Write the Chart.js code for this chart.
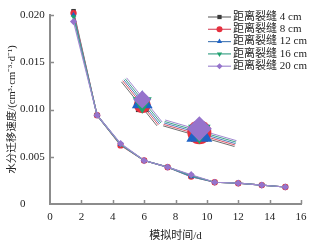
<!DOCTYPE html>
<html lang="zh">
<head>
<meta charset="UTF-8">
<title>水分迁移速度</title>
<script src="https://cdn.jsdelivr.net/npm/chart.js"></script>
<style>
  html, body { margin: 0; padding: 0; background: #fff; }
  #wrap { width: 316px; height: 243px; position: relative; }
</style>
</head>
<body>
<div id="wrap"><canvas id="rateChart"></canvas></div>
<script>
// simulation days and migration rate for each distance from the crack
const days = [1.5, 3, 4.5, 6, 7.5, 9, 10.5, 12, 13.5, 15];
const rate4cm  = [0.0204, 0.0094, 0.0063, 0.0046, 0.0039, 0.0030, 0.0023, 0.0022, 0.0020, 0.0018];
const rate8cm  = [0.0202, 0.0094, 0.0062, 0.0046, 0.0039, 0.0029, 0.0023, 0.0022, 0.0020, 0.0018];
const rate12cm = [0.0200, 0.0094, 0.0063, 0.0046, 0.0039, 0.0029, 0.0023, 0.0022, 0.0020, 0.0018];
const rate16cm = [0.0198, 0.0094, 0.0063, 0.0046, 0.0039, 0.0030, 0.0023, 0.0022, 0.0020, 0.0018];
const rate20cm = [0.0193, 0.0094, 0.0064, 0.0046, 0.0039, 0.0031, 0.0023, 0.0022, 0.0020, 0.0018];
const seriesNames = ['距离裂缝 4 cm', '距离裂缝 8 cm', '距离裂缝 12 cm', '距离裂缝 16 cm', '距离裂缝 20 cm'];

// the two enlarged callouts (marker centre per series, and the short line piece behind it)
const zoomDays = [5.88, 9.52];
const zoomRate4cm  = [0.01040, 0.00748];
const zoomRate8cm  = [0.01050, 0.00759];
const zoomRate12cm = [0.01076, 0.00738];
const zoomRate16cm = [0.01071, 0.00769];
const zoomRate20cm = [0.01107, 0.00795];
// [x start, y start, x end, y end]
const zoomLine4cm  = [[4.55, 0.01293, 6.82, 0.00827], [7.21, 0.00827, 11.76, 0.00608]];
const zoomLine8cm  = [[4.63, 0.01305, 6.91, 0.00837], [7.24, 0.00842, 11.80, 0.00624]];
const zoomLine12cm = [[4.71, 0.01315, 6.99, 0.00847], [7.27, 0.00858, 11.83, 0.00639]];
const zoomLine16cm = [[4.79, 0.01325, 7.07, 0.00858], [7.31, 0.00873, 11.86, 0.00655]];
const zoomLine20cm = [[4.88, 0.01335, 7.15, 0.00867], [7.34, 0.00889, 11.89, 0.00670]];

const yTicks = [0, 0.005, 0.010, 0.015, 0.020];
const yTickLabels = ['0', '0.005', '0.010', '0.015', '0.020'];

const rates = [rate4cm, rate8cm, rate12cm, rate16cm, rate20cm];
const zoomRates = [zoomRate4cm, zoomRate8cm, zoomRate12cm, zoomRate16cm, zoomRate20cm];
const zoomLines = [zoomLine4cm, zoomLine8cm, zoomLine12cm, zoomLine16cm, zoomLine20cm];

const markColors = ['#3a3a3a', '#e6303e', '#1f63c6', '#1fa46e', '#9673cc'];
const lineColors = ['#707070', '#d9566a', '#4f7fb8', '#3fa38a', '#a089d0'];
const styles = ['rect', 'circle', 'triangle', 'triangle', 'rectRot'];
const rotations = [0, 0, 0, 180, 0];
const zoomRadius = [[9, 12], [8.5, 12], [12, 15], [11, 13], [9, 12.5]];
const axisGrey = '#8c8c8c';
const fontFamily = '"Liberation Serif", "Noto Sans CJK SC", serif';

const datasets = [];
rates.forEach((r, i) => {
    datasets.push({
        label: seriesNames[i],
        data: days.map((d, k) => ({ x: d, y: r[k] })),
        borderColor: lineColors[i],
        borderWidth: 1.2,
        backgroundColor: markColors[i],
        pointBackgroundColor: markColors[i],
        pointBorderWidth: 0,
        pointRadius: i === 4 ? 3.6 : 3.2,
        pointStyle: styles[i],
        rotation: rotations[i],
        tension: 0,
        clip: false,
        order: 14 - i
    });
});
// callout line pieces (drawn underneath)
zoomLines.forEach((segs, i) => {
    segs.forEach(s => {
        datasets.push({
            data: [{ x: s[0], y: s[1] }, { x: s[2], y: s[3] }],
            borderColor: lineColors[i],
            borderWidth: 1,
            pointRadius: 0,
            clip: false,
            order: 30 - i
        });
    });
});
// callout markers
zoomRates.forEach((r, i) => {
    datasets.push({
        data: zoomDays.map((d, k) => ({ x: d, y: r[k] })),
        showLine: false,
        pointBackgroundColor: markColors[i],
        pointBorderWidth: 0,
        pointRadius: zoomRadius[i],
        pointStyle: styles[i],
        rotation: rotations[i],
        clip: false,
        order: 4 - i
    });
});

const innerTicks = {
    id: 'innerTicks',
    afterDraw(chart) {
        const { ctx, chartArea, scales } = chart;
        ctx.save();
        ctx.strokeStyle = axisGrey;
        ctx.lineWidth = 1.5;
        ctx.beginPath();
        scales.x.ticks.forEach(t => {
            if (t.value === 0) return;
            const px = Math.round(scales.x.getPixelForValue(t.value)) + 0.5;
            ctx.moveTo(px, chartArea.bottom);
            ctx.lineTo(px, chartArea.bottom - 4);
        });
        scales.y.ticks.forEach(t => {
            if (t.value === 0) return;
            const py = Math.round(scales.y.getPixelForValue(t.value)) + 0.5;
            ctx.moveTo(chartArea.left, py);
            ctx.lineTo(chartArea.left + 4, py);
        });
        ctx.stroke();
        ctx.restore();
    }
};

const innerLegend = {
    id: 'innerLegend',
    afterDraw(chart) {
        const { ctx, chartArea } = chart;
        const x0 = chartArea.right - 93;
        seriesNames.forEach((name, i) => {
            const y = chartArea.top + 2 + i * 12.3;
            ctx.save();
            ctx.strokeStyle = lineColors[i];
            ctx.lineWidth = 1.2;
            ctx.beginPath();
            ctx.moveTo(x0, y);
            ctx.lineTo(x0 + 23, y);
            ctx.stroke();
            ctx.fillStyle = markColors[i];
            Chart.helpers.drawPoint(ctx, {
                pointStyle: styles[i], rotation: rotations[i], radius: 3, borderWidth: 0
            }, x0 + 11.5, y);
            ctx.fillStyle = '#222';
            ctx.font = '11px ' + fontFamily;
            ctx.textBaseline = 'middle';
            ctx.textAlign = 'left';
            ctx.fillText(name, x0 + 25, y);
            ctx.restore();
        });
    }
};

new Chart(document.getElementById('rateChart'), {
    type: 'line',
    data: { datasets },
    options: {
        responsive: true,
        maintainAspectRatio: false,
        animation: false,
        events: [],
        layout: { padding: { left: 20, top: 12, right: 13, bottom: 0 } },
        plugins: { legend: { display: false }, tooltip: { enabled: false } },
        scales: {
            x: {
                type: 'linear',
                min: 0, max: 16,
                grid: { display: false, drawTicks: false },
                border: { display: true, color: axisGrey, width: 2 },
                ticks: {
                    stepSize: 2,
                    padding: 7,
                    color: '#222',
                    font: { family: fontFamily, size: 11 }
                },
                title: {
                    display: true,
                    text: '模拟时间/d',
                    color: '#222',
                    font: { family: fontFamily, size: 11 },
                    padding: { top: 0, bottom: 0 }
                },
                afterFit(scale) { scale.height = 39; }
            },
            y: {
                min: 0, max: 0.020,
                grid: { display: false, drawTicks: false },
                border: { display: true, color: axisGrey, width: 2 },
                afterBuildTicks(scale) { scale.ticks = yTicks.map(v => ({ value: v })); },
                ticks: {
                    crossAlign: 'far',
                    padding: 4,
                    color: '#222',
                    font: { family: fontFamily, size: 11 },
                    callback: (v, idx) => yTickLabels[idx]
                },
                title: {
                    display: true,
                    text: '水分迁移速度/(cm³·cm⁻³·d⁻¹)',
                    color: '#222',
                    font: { family: fontFamily, size: 10.5 },
                    padding: { top: -14, bottom: 0 }
                },
                afterFit(scale) { scale.width = 30; }
            }
        }
    },
    plugins: [innerTicks, innerLegend]
});
</script>
</body>
</html>
